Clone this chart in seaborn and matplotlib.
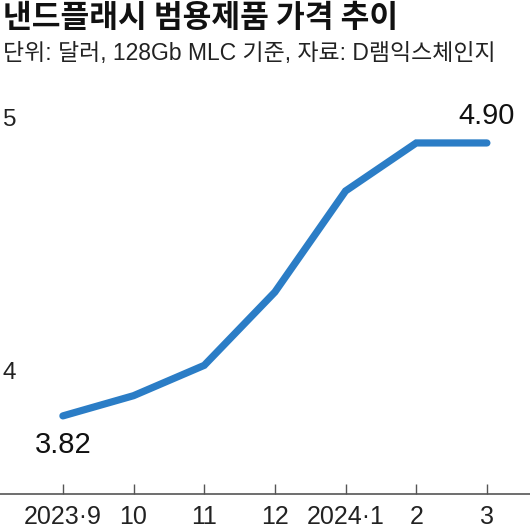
import pandas as pd
import numpy as np
import matplotlib.pyplot as plt
import seaborn as sns

# data
months = ['2023·9', '10', '11', '12', '2024·1', '2', '3']
price = [3.82, 3.90, 4.02, 4.31, 4.71, 4.90, 4.90]
yticks = [4, 5]

title = '낸드플래시 범용제품 가격 추이'
subtitle = '단위: 달러, 128Gb MLC 기준, 자료: D램익스체인지'

sns.set_style('white')
plt.rcParams['font.family'] = ['Liberation Sans', 'Noto Sans CJK KR', 'DejaVu Sans']

df = pd.DataFrame({'idx': np.arange(len(months)), 'price': price})

fig = plt.figure(figsize=(5.30, 5.31), dpi=100)
ax = fig.add_axes([0, 0.0697, 1, 0.742])
sns.lineplot(data=df, x='idx', y='price', ax=ax, color='#2b7dc6', linewidth=5.2,
             solid_capstyle='round', solid_joinstyle='miter', sort=False)

ax.set_xlim(-0.89, 6.61)
ax.set_ylim(3.511, 5.07)
ax.set_xlabel('')
ax.set_ylabel('')

ax.set_xticks(df['idx'])
ax.set_xticklabels(months, fontsize=18, color='#222222')
ax.tick_params(axis='x', bottom=True, direction='in', length=7, width=1, color='#555555', pad=8)

ax.set_yticks(yticks)
ax.set_yticklabels([str(v) for v in yticks], fontsize=17.5, color='#222222')
ax.tick_params(axis='y', left=False, length=0, pad=-2)
for lbl in ax.get_yticklabels():
    lbl.set_horizontalalignment('left')

for s in ['top', 'right', 'left']:
    ax.spines[s].set_visible(False)
ax.spines['bottom'].set_color('#555555')
ax.spines['bottom'].set_linewidth(1.2)

# value labels at the ends
ax.annotate(f'{price[0]:.2f}', (0, price[0]), xytext=(0, -11), textcoords='offset points',
            ha='center', va='top', fontsize=21, color='#111111')
ax.annotate(f'{price[-1]:.2f}', (len(price) - 1, price[-1]), xytext=(0, 9), textcoords='offset points',
            ha='center', va='bottom', fontsize=21, color='#111111')

fig.text(0.005, 0.997, title, fontsize=22.5, fontweight='bold', color='#111111',
         ha='left', va='top', family=['Noto Sans CJK KR', 'DejaVu Sans'])
fig.text(0.005, 0.92, subtitle, fontsize=16.5, color='#222222', ha='left', va='top',
         family=['Liberation Sans', 'Noto Sans CJK KR'])

fig.savefig('out.png', dpi=100)
